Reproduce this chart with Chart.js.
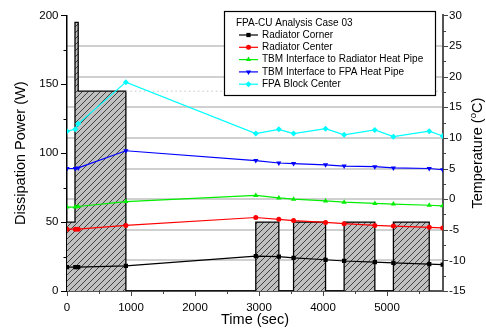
<!DOCTYPE html>
<html>
<head>
<meta charset="utf-8">
<title>FPA-CU Analysis Case 03</title>
<script src="https://cdn.jsdelivr.net/npm/chart.js@4.4.0/dist/chart.umd.min.js"></script>
<style>
  html, body { margin: 0; padding: 0; background: #fff; }
  #wrap { width: 486px; height: 334px; }
</style>
</head>
<body>
<div id="wrap"><canvas id="chart" width="486" height="334"></canvas></div>
<script>
(function () {
  'use strict';

  // heater power steps: each value holds from its start time up to the next start
  var powerTimes = [0, 125, 175, 920, 2950, 3310, 3540, 4040, 4330, 4810, 5100, 5660];
  var powerWatts = [50, 195, 145, 0, 50, 0, 50, 0, 50, 0, 50, 0];
  var powerRefLevel = 145;

  // temperature probes (deg C)
  var tempTimes = [0, 130, 175, 920, 2950, 3310, 3540, 4040, 4330, 4810, 5100, 5660, 5870];
  var radiatorCorner = [-11.1, -11.1, -11.1, -10.9, -9.3, -9.4, -9.6, -9.9, -10.1, -10.3, -10.4, -10.6, -10.7];
  var radiatorCenter = [-4.9, -4.9, -4.9, -4.3, -3.0, -3.3, -3.5, -3.8, -4.0, -4.3, -4.4, -4.6, -4.7];
  var tbmRadiatorPipe = [-1.3, -1.3, -1.2, -0.4, 0.6, 0.2, 0.0, -0.3, -0.5, -0.7, -0.8, -1.0, -1.1];
  var tbmFpaPipe = [5.0, 5.0, 5.1, 7.9, 6.3, 5.9, 5.8, 5.6, 5.4, 5.3, 5.1, 5.0, 4.8];
  var fpaBlockCenter = [11.1, 11.4, 12.3, 19.1, 10.7, 11.4, 10.7, 11.5, 10.5, 11.3, 10.2, 11.1, 10.3];

  var powerTicks = [0, 50, 100, 150, 200];
  var timeTicks = [0, 1000, 2000, 3000, 4000, 5000];
  var tempTicks = [-15, -10, -5, 0, 5, 10, 15, 20, 25, 30];
  var timeMax = 5875;

  var FONT = "'Liberation Sans', Arial, sans-serif";

  function points(xs, ys) {
    return xs.map(function (x, i) { return { x: x, y: ys[i] }; });
  }

  function minorsOf(majors, max) {
    var out = [];
    var step = majors[1] - majors[0];
    majors.forEach(function (v) {
      if (v + step / 2 <= max) out.push(v + step / 2);
    });
    return out;
  }

  function plain(value) {
    return String(value);
  }

  function hatchPattern() {
    var size = 6;
    var c = document.createElement('canvas');
    c.width = size;
    c.height = size;
    var g = c.getContext('2d');
    g.fillStyle = '#c0c0c0';
    g.fillRect(0, 0, size, size);
    g.strokeStyle = '#222';
    g.lineWidth = 0.8;
    g.beginPath();
    g.moveTo(0, size); g.lineTo(size, 0);
    g.moveTo(-1, 1); g.lineTo(1, -1);
    g.moveTo(size - 1, size + 1); g.lineTo(size + 1, size - 1);
    g.stroke();
    return g.createPattern(c, 'repeat');
  }

  function tempSeries(label, values, color, style, radius, rotation) {
    return {
      label: label,
      data: points(tempTimes, values),
      yAxisID: 'y1',
      borderColor: color,
      backgroundColor: color,
      borderWidth: 1.2,
      pointStyle: style,
      pointRotation: rotation || 0,
      pointRadius: radius,
      pointBorderWidth: 0,
      fill: false,
      inLegend: true,
      order: 1
    };
  }

  var tickMarks = {
    id: 'tickMarks',
    afterDraw: function (chart) {
      var ctx = chart.ctx;
      var sx = chart.scales.x, sy = chart.scales.y, sy1 = chart.scales.y1;
      ctx.save();
      ctx.lineWidth = 1;

      function mark(scale, values, len, color) {
        ctx.strokeStyle = color;
        values.forEach(function (v) {
          var p = Math.round(scale.getPixelForValue(v)) + 0.5;
          ctx.beginPath();
          if (scale === sx) {
            ctx.moveTo(p, scale.top); ctx.lineTo(p, scale.top + len);
          } else if (scale === sy) {
            ctx.moveTo(scale.right - len, p); ctx.lineTo(scale.right, p);
          } else {
            ctx.moveTo(scale.left, p); ctx.lineTo(scale.left + len, p);
          }
          ctx.stroke();
        });
      }

      mark(sy, powerTicks, 6, '#000');
      mark(sy, minorsOf(powerTicks, 200), 3.5, '#000');
      mark(sx, timeTicks, 5, '#444');
      mark(sx, minorsOf(timeTicks, timeMax), 3, '#444');
      mark(sy1, tempTicks, 5, '#444');
      mark(sy1, minorsOf(tempTicks, 30), 3, '#444');

      // right axis title with superscript degree
      var area = chart.chartArea;
      ctx.translate(478, (area.top + area.bottom) / 2);
      ctx.rotate(-Math.PI / 2);
      ctx.fillStyle = '#000';
      ctx.textBaseline = 'middle';
      var big = '14.5px ' + FONT, small = '9.5px ' + FONT;
      ctx.font = big;
      var a = 'Temperature (', b = 'C)';
      var wa = ctx.measureText(a).width, wb = ctx.measureText(b).width;
      ctx.font = small;
      var wo = ctx.measureText('o').width;
      var x0 = -(wa + wo + wb) / 2;
      ctx.font = big;
      ctx.textAlign = 'left';
      ctx.fillText(a, x0, 0);
      ctx.font = small;
      ctx.fillText('o', x0 + wa, -5);
      ctx.font = big;
      ctx.fillText(b, x0 + wa + wo, 0);
      ctx.restore();
    }
  };

  var legendBox = {
    id: 'legendBox',
    afterDraw: function (chart) {
      var ctx = chart.ctx;
      var left = 224, top = 11, right = 435, bottom = 95;
      ctx.save();
      ctx.fillStyle = '#fff';
      ctx.fillRect(left, top, right - left, bottom - top);
      ctx.strokeStyle = '#000';
      ctx.lineWidth = 1.2;
      ctx.strokeRect(left + 0.5, top + 0.5, right - left, bottom - top);
      ctx.font = '10px ' + FONT;
      ctx.fillStyle = '#000';
      ctx.textBaseline = 'middle';
      ctx.textAlign = 'left';
      ctx.fillText('FPA-CU Analysis Case 03', 236, 23);
      var rowY = 35;
      chart.data.datasets.forEach(function (ds) {
        if (!ds.inLegend) return;
        ctx.strokeStyle = ds.borderColor;
        ctx.lineWidth = 1.2;
        ctx.beginPath();
        ctx.moveTo(239, rowY);
        ctx.lineTo(258, rowY);
        ctx.stroke();
        ctx.fillStyle = ds.backgroundColor;
        Chart.helpers.drawPoint(ctx, {
          pointStyle: ds.pointStyle,
          radius: ds.pointRadius,
          rotation: ds.pointRotation,
          borderWidth: 0
        }, 248.5, rowY);
        ctx.fillStyle = '#000';
        ctx.fillText(ds.label, 262, rowY);
        rowY += 12.3;
      });
      ctx.restore();
    }
  };

  var tickFont = { family: FONT, size: 11.5 };
  var titleFont = { family: FONT, size: 14.5 };

  new Chart(document.getElementById('chart'), {
    type: 'line',
    data: {
      datasets: [
        {
          label: 'Dissipation Power',
          data: points(powerTimes, powerWatts),
          yAxisID: 'y',
          stepped: 'before',
          fill: 'origin',
          backgroundColor: hatchPattern(),
          borderColor: '#000',
          borderWidth: 1.3,
          pointRadius: 0,
          order: 10
        },
        {
          label: 'Power level',
          data: [{ x: powerTimes[3], y: powerRefLevel }, { x: timeMax, y: powerRefLevel }],
          yAxisID: 'y',
          borderColor: '#c4c4c4',
          borderWidth: 1,
          borderDash: [1.5, 3],
          pointRadius: 0,
          fill: false,
          order: 5
        },
        tempSeries('Radiator Corner', radiatorCorner, '#000000', 'rect', 3),
        tempSeries('Radiator Center', radiatorCenter, '#ff0000', 'circle', 2.5),
        tempSeries('TBM Interface to Radiator Heat Pipe', tbmRadiatorPipe, '#00ee00', 'triangle', 3),
        tempSeries('TBM Interface to FPA Heat Pipe', tbmFpaPipe, '#0000ff', 'triangle', 3, 180),
        tempSeries('FPA Block Center', fpaBlockCenter, '#00ffff', 'rectRot', 3)
      ]
    },
    options: {
      responsive: false,
      animation: false,
      layout: { padding: { top: 14, left: 0, right: 0, bottom: 0 } },
      plugins: {
        legend: { display: false },
        tooltip: { enabled: false }
      },
      scales: {
        x: {
          type: 'linear',
          position: 'bottom',
          min: 0,
          max: timeMax,
          afterBuildTicks: function (scale) {
            scale.ticks = timeTicks.map(function (v) { return { value: v }; });
          },
          afterFit: function (scale) { scale.height = 43; },
          ticks: { font: tickFont, color: '#000', padding: 9.5, maxRotation: 0, callback: plain },
          grid: { display: false, drawTicks: false },
          border: { display: true, color: '#555', width: 2 },
          title: { display: true, text: 'Time (sec)', font: titleFont, color: '#000', padding: { top: 0, bottom: 5 } }
        },
        y: {
          type: 'linear',
          position: 'left',
          min: 0,
          max: 200,
          afterBuildTicks: function (scale) {
            scale.ticks = powerTicks.map(function (v) { return { value: v }; });
          },
          afterFit: function (scale) { scale.width = 67; },
          ticks: { font: tickFont, color: '#000', padding: 8.5, callback: plain },
          grid: { display: false, drawTicks: false },
          border: { display: true, color: '#000', width: 1.5 },
          title: { display: true, text: 'Dissipation Power (W)', font: titleFont, color: '#000', padding: { top: 12, bottom: 0 } }
        },
        y1: {
          type: 'linear',
          position: 'right',
          min: -15,
          max: 30,
          afterBuildTicks: function (scale) {
            scale.ticks = tempTicks.map(function (v) { return { value: v }; });
          },
          afterFit: function (scale) { scale.width = 43; },
          ticks: { font: tickFont, color: '#000', padding: 6, callback: plain },
          grid: {
            drawOnChartArea: true,
            drawTicks: false,
            lineWidth: 2,
            color: function (ctx) {
              var v = ctx.tick && ctx.tick.value;
              return v > -15 && v < 30 ? '#d0d0d0' : 'rgba(0,0,0,0)';
            }
          },
          border: { display: true, color: '#555', width: 2 }
        }
      }
    },
    plugins: [tickMarks, legendBox]
  });
})();
</script>
</body>
</html>
